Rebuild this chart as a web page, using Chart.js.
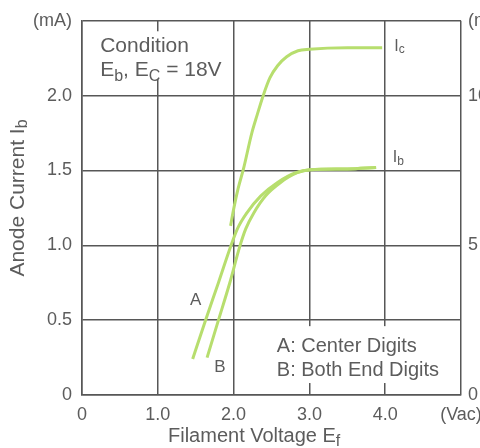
<!DOCTYPE html>
<html>
<head>
<meta charset="utf-8">
<script src="https://cdn.jsdelivr.net/npm/chart.js@4/dist/chart.umd.min.js"></script>
<style>
  html, body { margin: 0; padding: 0; background: #fff; overflow: hidden; }
  #wrap { width: 480px; height: 448px; overflow: hidden; }
</style>
</head>
<body>
<div id="wrap"><canvas id="anodeChart" width="520" height="448"></canvas></div>
<script>
// Filament voltage Ef (Vac) vs anode current
const aVolt = [1.46, 1.63, 1.80, 1.96, 2.05, 2.18, 2.36, 2.58, 2.82, 3.01, 3.50, 3.88];
const aCurr = [0.24, 0.50, 0.75, 0.99, 1.11, 1.22, 1.33, 1.42, 1.485, 1.505, 1.51, 1.52];

const bVolt = [1.65, 1.80, 1.95, 2.08, 2.16, 2.27, 2.42, 2.62, 2.84, 3.01, 3.50, 3.88];
const bCurr = [0.25, 0.50, 0.75, 0.99, 1.11, 1.22, 1.33, 1.42, 1.485, 1.505, 1.51, 1.52];

// Ic is read on the right-hand axis (mA)
const cVolt = [1.96, 2.00, 2.06, 2.13, 2.24, 2.31, 2.39, 2.48, 2.58, 2.70, 2.85, 3.00, 3.50, 3.96];
const cCurr = [5.65, 6.20, 6.90, 7.55, 8.75, 9.35, 10.0, 10.6, 11.0, 11.3, 11.5, 11.55, 11.6, 11.6];

const xTickLabels = { 0: '0', 1: '1.0', 2: '2.0', 3: '3.0', 4: '4.0', 5: '(Vac)' };
const yTickLabels = { 0: '0', 0.5: '0.5', 1: '1.0', 1.5: '1.5', 2: '2.0', 2.5: '(mA)' };
const y2TickLabels = { 0: '0', 5: '5', 10: '10', 12.5: '(mA)' };

const FONT = '"Liberation Sans", Arial, sans-serif';
const TEXT = '#5c5c5c';
const GRID = '#575757';
const GREEN = '#b7de6e';

function toPoints(xs, ys) {
    return xs.map((x, i) => ({ x: x, y: ys[i] }));
}

// draw text with simple subscripts: parts = [[text, isSub], ...]
function drawRich(ctx, parts, x, y, size, align) {
    const subSize = Math.round(size * 0.78);
    let total = 0;
    parts.forEach(p => {
        ctx.font = (p[1] ? subSize : size) + 'px ' + FONT;
        total += ctx.measureText(p[0]).width;
    });
    let cx = x;
    if (align === 'center') cx = x - total / 2;
    parts.forEach(p => {
        ctx.font = (p[1] ? subSize : size) + 'px ' + FONT;
        ctx.fillText(p[0], cx, p[1] ? y + size * 0.22 : y);
        cx += ctx.measureText(p[0]).width;
    });
}

const notesPlugin = {
    id: 'notes',
    beforeDatasetsDraw(chart) {
        const ctx = chart.ctx;
        const xs = chart.scales.x, ys = chart.scales.y;
        const px = v => xs.getPixelForValue(v);
        const py = v => ys.getPixelForValue(v);
        ctx.save();
        // white boxes behind the text blocks
        ctx.fillStyle = '#fff';
        ctx.fillRect(px(0.16), py(2.43), px(1.85) - px(0.16), py(2.11) - py(2.43));
        ctx.fillRect(px(2.45), py(0.46), px(4.95) - px(2.45), py(0.08) - py(0.46));

        ctx.fillStyle = TEXT;
        ctx.textAlign = 'left';
        ctx.textBaseline = 'alphabetic';
        drawRich(ctx, [['Condition', false]], px(0.24), py(2.29), 21);
        drawRich(ctx, [['E', false], ['b', true], [', E', false], ['C', true], [' = 18V', false]], px(0.24), py(2.13), 21);
        drawRich(ctx, [['A: Center Digits', false]], px(2.57), py(0.285), 20);
        drawRich(ctx, [['B: Both End Digits', false]], px(2.57), py(0.13), 20);

        ctx.textBaseline = 'middle';
        drawRich(ctx, [['A', false]], px(1.50), py(0.63), 17, 'center');
        drawRich(ctx, [['B', false]], px(1.82), py(0.185), 17, 'center');
        drawRich(ctx, [['I', false], ['c', true]], px(4.12), py(2.33), 16);
        drawRich(ctx, [['I', false], ['b', true]], px(4.10), py(1.585), 16);
        ctx.restore();
    },
    afterDraw(chart) {
        const ctx = chart.ctx;
        ctx.save();
        ctx.fillStyle = TEXT;
        ctx.textAlign = 'left';
        ctx.textBaseline = 'alphabetic';
        drawRich(ctx, [['Filament Voltage E', false], ['f', true]], 168, 442, 20);
        ctx.translate(18, 198);
        ctx.rotate(-Math.PI / 2);
        ctx.textBaseline = 'middle';
        drawRich(ctx, [['Anode Current I', false], ['b', true]], 0, 0, 21, 'center');
        ctx.restore();
    }
};

const lineStyle = {
    borderColor: GREEN,
    borderWidth: 3,
    pointRadius: 0,
    fill: false,
    cubicInterpolationMode: 'monotone',
    borderCapStyle: 'butt'
};

const ctx = document.getElementById('anodeChart').getContext('2d');
new Chart(ctx, {
    type: 'line',
    data: {
        datasets: [
            Object.assign({ label: 'A', data: toPoints(aVolt, aCurr), yAxisID: 'y' }, lineStyle),
            Object.assign({ label: 'B', data: toPoints(bVolt, bCurr), yAxisID: 'y' }, lineStyle),
            Object.assign({ label: 'Ic', data: toPoints(cVolt, cCurr), yAxisID: 'y2' }, lineStyle)
        ]
    },
    options: {
        responsive: false,
        animation: false,
        devicePixelRatio: 1,
        layout: { padding: { top: 16, left: 0, right: 0, bottom: 0 } },
        plugins: {
            legend: { display: false },
            tooltip: { enabled: false }
        },
        scales: {
            x: {
                type: 'linear',
                min: 0,
                max: 5,
                afterFit(scale) { scale.height = 53; },
                grid: { color: GRID, lineWidth: 1.5, drawTicks: false },
                border: { color: GRID, width: 1.5 },
                ticks: {
                    stepSize: 1,
                    padding: 9,
                    color: TEXT,
                    font: { family: FONT, size: 18 },
                    callback: v => xTickLabels[v] !== undefined ? xTickLabels[v] : ''
                }
            },
            y: {
                type: 'linear',
                position: 'left',
                min: 0,
                max: 2.5,
                afterFit(scale) { scale.width = 82; },
                grid: { color: GRID, lineWidth: 1.5, drawTicks: false },
                border: { color: GRID, width: 1.5 },
                ticks: {
                    stepSize: 0.5,
                    padding: 10,
                    color: TEXT,
                    font: { family: FONT, size: 18 },
                    callback: v => yTickLabels[v] !== undefined ? yTickLabels[v] : ''
                }
            },
            y2: {
                type: 'linear',
                position: 'right',
                min: 0,
                max: 12.5,
                afterFit(scale) { scale.width = 59; },
                grid: { display: false, drawTicks: false },
                border: { display: false },
                ticks: {
                    stepSize: 2.5,
                    padding: 7,
                    color: TEXT,
                    font: { family: FONT, size: 18 },
                    callback: v => y2TickLabels[v] !== undefined ? y2TickLabels[v] : ''
                }
            }
        }
    },
    plugins: [notesPlugin]
});
</script>
</body>
</html>
